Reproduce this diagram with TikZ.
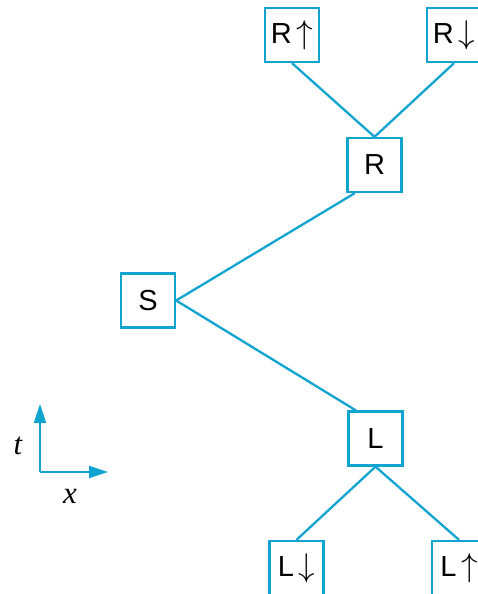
\RequirePackage{fix-cm}
\documentclass[tikz,border=0pt]{standalone}
\usepackage{fontspec}
\setmainfont{Liberation Sans}
\newfontfamily\serifit{Liberation Serif}
\usetikzlibrary{arrows.meta,calc}
\definecolor{cy}{RGB}{18,164,208}
\newcommand{\upar}{\,{\fontsize{33}{35}\selectfont$\uparrow$}}
\newcommand{\dnar}{\,{\fontsize{33}{35}\selectfont$\downarrow$}}
\begin{document}
\begin{tikzpicture}[x=1pt,y=-1pt,
  box/.style={draw=cy,line width=2.3pt,minimum size=54pt,inner sep=0pt,font=\fontsize{29}{31}\selectfont},
  link/.style={draw=cy,line width=2.3pt},
  axis/.style={draw=cy,line width=2.3pt,-{Triangle[length=19pt,width=12pt]}},
  lab/.style={font=\fontsize{31}{33}\selectfont\serifit\itshape,inner sep=0pt}]
\useasboundingbox (0,0) rectangle (478,594);
\node[box] (Ru) at (292,35) {R\upar};
\node[box] (Rd) at (454,35) {R\dnar};
\node[box] (R) at (374.5,165) {R};
\node[box] (S) at (148,300.5) {S};
\node[box] (L) at (375.5,438.5) {L};
\node[box] (Ld) at (296.5,568) {L\dnar};
\node[box] (Lu) at (459,568) {L\upar};
\draw[link] (Ru.south) -- (R.north);
\draw[link] (Rd.south) -- (R.north);
\draw[link] (S.east) -- ($(R.south west)!0.15!(R.south east)$);
\draw[link] (S.east) -- ($(L.north west)!0.15!(L.north east)$);
\draw[link] (L.south) -- (Ld.north);
\draw[link] (L.south) -- (Lu.north);
\coordinate (O) at (40,472);
\coordinate (tt) at (40,404);
\coordinate (xx) at (108,472);
\draw[axis] (O) -- (tt);
\draw[axis] (O) -- (xx);
\node[lab] (tl) at (18,446) {t};
\node[lab] (xl) at (70,496) {x};
\end{tikzpicture}
\end{document}
